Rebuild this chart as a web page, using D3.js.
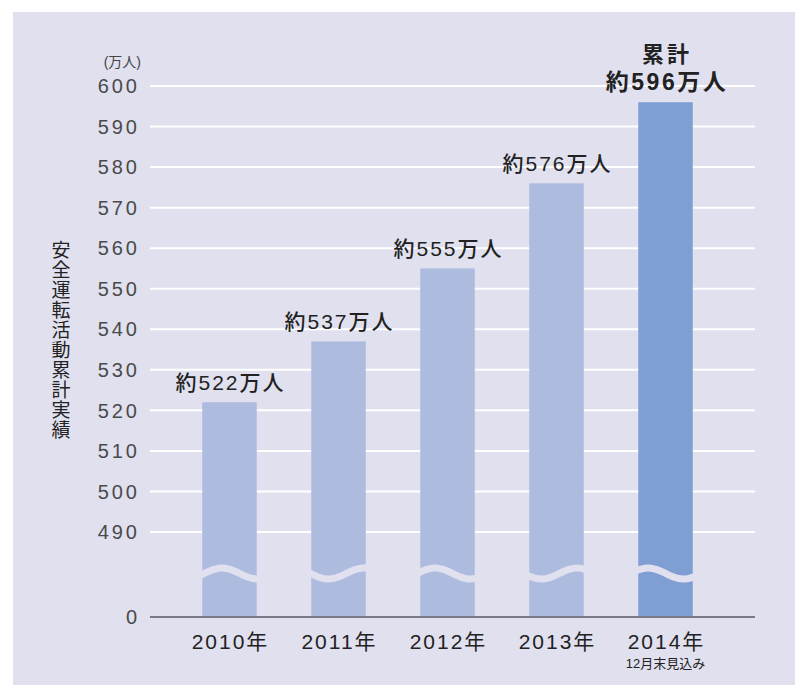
<!DOCTYPE html>
<html>
<head>
<meta charset="utf-8">
<script src="https://cdn.jsdelivr.net/npm/d3@7"></script>
<style>
  body { margin: 0; background: #fff; }
  svg text { font-family: "Liberation Sans", "Noto Sans CJK JP", sans-serif; }
  .vtitle { writing-mode: vertical-rl; text-orientation: upright; font-family: "Noto Sans CJK JP", sans-serif; }
</style>
</head>
<body>
<div id="chart"></div>
<script>
// data
const years = ["2010年", "2011年", "2012年", "2013年", "2014年"];
const totals = [522, 537, 555, 576, 596];
const valueLabels = ["約522万人", "約537万人", "約555万人", "約576万人", "約596万人"];
const yTicks = [490, 500, 510, 520, 530, 540, 550, 560, 570, 580, 590, 600];
const yTitle = "安全運転活動累計実績";
const unitLabel = "(万人)";
const lastNote = "12月末見込み";

const W = 795, H = 685;
const bg = "#e0e0ef";

const svg = d3.select("#chart").append("svg")
    .attr("width", W)
    .attr("height", H);

// panel
svg.append("rect")
    .attr("x", 13).attr("y", 12)
    .attr("width", W - 13).attr("height", H - 12)
    .attr("fill", bg);

// scales - upper part of the broken axis
let y = d3.scaleLinear()
    .domain([490, 600])
    .range([532, 86]);
const zeroY = 617;

let x = d3.scaleBand()
    .domain(years)
    .range([175, 720])
    .paddingInner(0.5)
    .paddingOuter(0.25);

// gridlines
svg.append("g")
    .selectAll("line")
    .data(yTicks)
    .enter().append("line")
    .attr("x1", 150).attr("x2", 755)
    .attr("y1", d => y(d)).attr("y2", d => y(d))
    .attr("stroke", "#fff")
    .attr("stroke-width", 2);

// tick labels
svg.append("g")
    .selectAll("text")
    .data(yTicks.concat([0]))
    .enter().append("text")
    .attr("x", 140)
    .attr("y", d => d === 0 ? zeroY : y(d))
    .attr("dy", "0.36em")
    .attr("text-anchor", "end")
    .attr("font-size", 20)
    .attr("letter-spacing", 3)
    .attr("fill", "#4a4a4a")
    .text(d => d);

svg.append("text")
    .attr("x", 141).attr("y", 67)
    .attr("text-anchor", "end")
    .attr("font-size", 14)
    .attr("fill", "#444")
    .text(unitLabel);

// y title, vertical
svg.append("text")
    .attr("class", "vtitle")
    .attr("x", 61)
    .attr("y", 240)
    .attr("font-size", 19)
    .attr("letter-spacing", 1)
    .attr("fill", "#222")
    .text(yTitle);

// bars
svg.append("g")
    .selectAll("rect")
    .data(totals)
    .enter().append("rect")
    .attr("x", (d, i) => x(years[i]))
    .attr("y", d => y(d))
    .attr("width", x.bandwidth())
    .attr("height", d => zeroY - y(d))
    .attr("fill", (d, i) => i === totals.length - 1 ? "#7f9fd3" : "#adbbdf");

// wave break across the bars
const wave = d3.line()
    .x(d => d)
    .y(d => 573.5 - 5.5 * Math.cos(2 * Math.PI * (d - 222) / 71))
    .curve(d3.curveBasis);
svg.append("path")
    .attr("d", wave(d3.range(195, 700, 2)))
    .attr("fill", "none")
    .attr("stroke", bg)
    .attr("stroke-width", 7);

// zero axis line
svg.append("line")
    .attr("x1", 150).attr("x2", 755)
    .attr("y1", zeroY).attr("y2", zeroY)
    .attr("stroke", "#7a7a86")
    .attr("stroke-width", 2);

// value labels
const last = valueLabels.length - 1;
svg.append("g")
    .selectAll("text")
    .data(valueLabels)
    .enter().append("text")
    .attr("x", (d, i) => x(years[i]) + x.bandwidth() / 2 + (i === last ? 1.5 : 1))
    .attr("y", (d, i) => y(totals[i]) - 12)
    .attr("text-anchor", "middle")
    .attr("font-size", (d, i) => i === last ? 23 : 21)
    .attr("letter-spacing", (d, i) => i === last ? 2.5 : 2)
    .attr("font-weight", (d, i) => i === last ? 700 : 500)
    .attr("fill", "#222")
    .text(d => d);

svg.append("text")
    .attr("x", x(years[4]) + x.bandwidth() / 2 + 1.5)
    .attr("y", y(totals[4]) - 40)
    .attr("text-anchor", "middle")
    .attr("font-size", 22)
    .attr("letter-spacing", 3)
    .attr("font-weight", 700)
    .attr("fill", "#222")
    .text("累計");

// x labels
svg.append("g")
    .selectAll("text")
    .data(years)
    .enter().append("text")
    .attr("x", d => x(d) + x.bandwidth() / 2 + 1)
    .attr("y", 649)
    .attr("text-anchor", "middle")
    .attr("font-size", 21)
    .attr("letter-spacing", 2)
    .attr("fill", "#222")
    .text(d => d);

svg.append("text")
    .attr("x", x(years[4]) + x.bandwidth() / 2)
    .attr("y", 668)
    .attr("text-anchor", "middle")
    .attr("font-size", 13)
    .attr("fill", "#222")
    .text(lastNote);
</script>
</body>
</html>
